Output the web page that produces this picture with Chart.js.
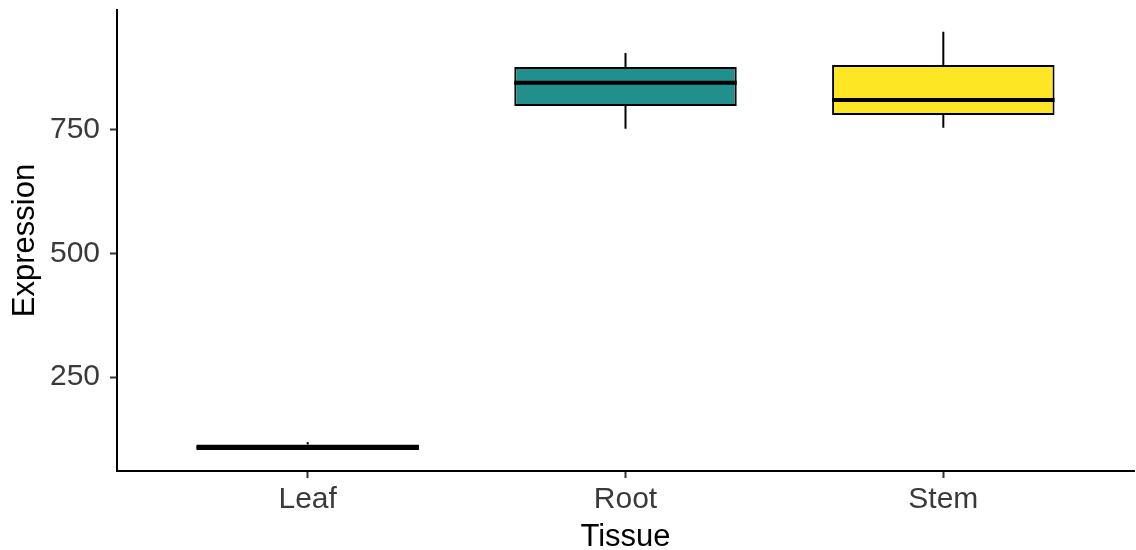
<!DOCTYPE html>
<html>
<head>
<meta charset="utf-8">
<script src="https://cdn.jsdelivr.net/npm/chart.js@4/dist/chart.umd.min.js"></script>
<style>
  html, body { margin: 0; padding: 0; background: #fff; }
  #wrap { width: 1136px; height: 550px; }
</style>
</head>
<body>
<div id="wrap"><canvas id="grafico"></canvas></div>
<script>
// Dados (boxplot por tecido)
const categories = ['Leaf', 'Root', 'Stem'];
const lowerWhisker = [103, 752, 754];
const q1Values = [103, 798, 780];
const medians = [108, 845, 810];
const q3Values = [114, 877, 881];
const upperWhisker = [119, 905, 948];
const fillColors = ['#440154', '#21908C', '#FDE725'];
const yTicks = [250, 500, 750];
const xTicks = [1, 2, 3];

const fonte = 'Arial, "Liberation Sans", sans-serif';

// Bigodes (antes das caixas) e medianas (depois)
const boxWhiskers = {
  id: 'boxWhiskers',
  beforeDatasetsDraw(chart) {
    const ctx = chart.ctx;
    const yScale = chart.scales.y;
    const meta = chart.getDatasetMeta(0);
    ctx.save();
    ctx.strokeStyle = '#000';
    ctx.lineWidth = 2;
    meta.data.forEach((bar, i) => {
      const x = bar.x;
      ctx.beginPath();
      ctx.moveTo(x, yScale.getPixelForValue(lowerWhisker[i]));
      ctx.lineTo(x, yScale.getPixelForValue(q1Values[i]));
      ctx.moveTo(x, yScale.getPixelForValue(q3Values[i]));
      ctx.lineTo(x, yScale.getPixelForValue(upperWhisker[i]));
      ctx.stroke();
    });
    ctx.restore();
  },
  afterDatasetsDraw(chart) {
    const ctx = chart.ctx;
    const yScale = chart.scales.y;
    const meta = chart.getDatasetMeta(0);
    ctx.save();
    ctx.strokeStyle = '#000';
    ctx.lineWidth = 4;
    meta.data.forEach((bar, i) => {
      const half = bar.width / 2;
      const y = yScale.getPixelForValue(medians[i]);
      ctx.beginPath();
      ctx.moveTo(bar.x - half, y);
      ctx.lineTo(bar.x + half, y);
      ctx.stroke();
    });
    ctx.restore();
  }
};

const ctx = document.getElementById('grafico').getContext('2d');

new Chart(ctx, {
  type: 'bar',
  data: {
    datasets: [{
      label: 'Expression',
      data: categories.map((c, i) => ({ x: xTicks[i], y: [q1Values[i], q3Values[i]] })),
      backgroundColor: fillColors,
      borderColor: '#000',
      borderWidth: 2,
      borderSkipped: false,
      categoryPercentage: 1,
      barPercentage: 0.7
    }]
  },
  options: {
    responsive: true,
    maintainAspectRatio: false,
    animation: false,
    devicePixelRatio: 1,
    layout: { padding: { top: 10, right: 2, bottom: 0, left: 0 } },
    plugins: {
      legend: { display: false },
      tooltip: { enabled: false }
    },
    scales: {
      x: {
        type: 'linear',
        min: 0.4,
        max: 3.6,
        offset: false,
        afterBuildTicks: scale => { scale.ticks = xTicks.map(v => ({ value: v })); },
        afterFit: scale => {
          scale.height = 79;
          scale.paddingLeft = 0;
          scale.paddingRight = 0;
        },
        border: { display: true, color: '#000', width: 2 },
        grid: { offset: false, drawOnChartArea: false, drawTicks: true, tickLength: 7, tickWidth: 2, tickColor: '#333' },
        ticks: {
          color: '#3a3a3a',
          font: { family: fonte, size: 30 },
          padding: 4,
          maxRotation: 0,
          callback: v => categories[v - 1]
        },
        title: {
          display: true,
          text: 'Tissue',
          color: '#000',
          font: { family: fonte, size: 31, lineHeight: 0.84 },
          padding: { top: 0, bottom: 0 }
        }
      },
      y: {
        min: 60.5,
        max: 992,
        afterBuildTicks: scale => { scale.ticks = yTicks.map(v => ({ value: v })); },
        afterFit: scale => {
          scale.width = 117;
          scale.paddingTop = 0;
          scale.paddingBottom = 0;
        },
        border: { display: true, color: '#000', width: 2 },
        grid: { drawOnChartArea: false, drawTicks: true, tickLength: 7, tickWidth: 2, tickColor: '#333' },
        ticks: {
          color: '#3a3a3a',
          font: { family: fonte, size: 30 },
          padding: 10
        },
        title: {
          display: true,
          text: 'Expression',
          color: '#000',
          font: { family: fonte, size: 31, lineHeight: 1 },
          padding: { top: 10, bottom: 0 }
        }
      }
    }
  },
  plugins: [boxWhiskers]
});
</script>
</body>
</html>
